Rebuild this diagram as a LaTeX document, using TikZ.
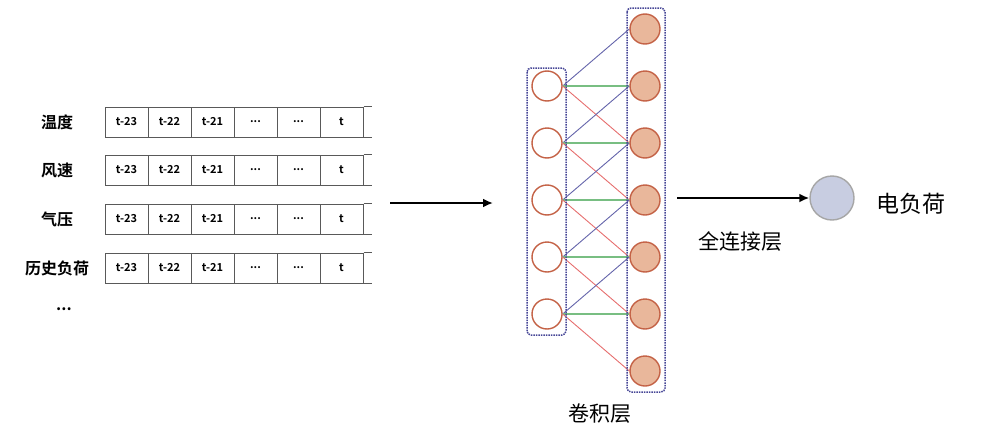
\documentclass[tikz,border=0pt]{standalone}
\usepackage{fontspec}
\setmainfont{Noto Sans CJK SC}
\newfontfamily\cjkbold{Noto Sans CJK SC Bold}
\usetikzlibrary{arrows.meta}
\definecolor{ringred}{RGB}{196,98,70}
\definecolor{fillred}{RGB}{233,183,155}
\definecolor{linkblue}{RGB}{100,100,170}
\definecolor{linkgreen}{RGB}{120,190,130}
\definecolor{linkred}{RGB}{230,110,110}
\definecolor{outfill}{RGB}{200,205,225}
\definecolor{boxdot}{RGB}{70,70,150}
\newcommand{\celldots}{...}

\begin{document}
\begin{tikzpicture}[x=1pt, y=-1pt,
        cell/.style={draw=gray!70!black, line width=1pt, minimum width=43pt, minimum height=30pt,
            inner sep=0pt, font=\cjkbold\fontsize{11}{11}\selectfont},
        rowname/.style={font=\cjkbold\fontsize{16}{16}\selectfont},
        neuron/.style={circle, draw=ringred, line width=1.4pt, minimum size=30pt, inner sep=0pt},
        layerbox/.style={draw=boxdot, densely dotted, line width=1.5pt, rounded corners=4pt}]
    \useasboundingbox (0,0) rectangle (990,447);

    % input table
    \foreach \r/\name/\y in {1/温度/122, 2/风速/170, 3/气压/219, 4/历史负荷/268} {
        \node[rowname] (row\r) at (57, \y) {\name};
        \foreach \c/\txt in {1/t-23, 2/t-22, 3/t-21, 4/\celldots, 5/\celldots, 6/t}
            \node[cell] (cell\r\c) at (83.5+43*\c, \y) {\txt};
        \draw[gray!70!black, line width=1pt] (cell\r6.north east) -- ++(8,0);
        \draw[gray!70!black, line width=1pt] (cell\r6.south east) -- ++(8,0);
    }
    \node[rowname] (rowdots) at (64, 309) {\celldots};

    \coordinate (in1) at (390, 203);
    \coordinate (in2) at (493, 203);
    \draw[line width=2.2pt, -{Latex[length=10pt, width=9pt]}] (in1) -- (in2);

    % conv layer
    \foreach \i in {1,2,3,4,5}
        \node[neuron, fill=white] (a\i) at (547, 29+57*\i) {};
    \foreach \j in {1,2,3,4,5,6,7}
        \node[neuron, fill=fillred] (b\j) at (645, -28+57*\j) {};
    \foreach \i in {1,2,3,4,5} {
        \pgfmathtruncatemacro{\mid}{\i+1}
        \pgfmathtruncatemacro{\low}{\i+2}
        \draw[linkblue, line width=0.9pt] (a\i.east) -- (b\i.west);
        \draw[linkgreen, line width=1.4pt] (a\i.east) -- (b\mid.west);
        \draw[linkred, line width=0.9pt] (a\i.east) -- (b\low.west);
    }
    \draw[layerbox] (527, 68) rectangle (566, 335);
    \draw[layerbox] (627, 8) rectangle (665, 392);
    \node[font=\fontsize{21}{21}\selectfont] (convlabel) at (600, 414) {卷积层};

    % fully connected output
    \node[circle, draw=gray!70, fill=outfill, line width=1.4pt, minimum size=44pt] (out) at (832, 198) {};
    \coordinate (fc1) at (677, 198);
    \draw[line width=2.2pt, -{Latex[length=10pt, width=9pt]}] (fc1) -- (out.west);
    \node[font=\fontsize{21}{21}\selectfont] (fclabel) at (740, 241) {全连接层};
    \node[font=\fontsize{23}{23}\selectfont] (outlabel) at (911, 204) {电负荷};
\end{tikzpicture}
\end{document}
